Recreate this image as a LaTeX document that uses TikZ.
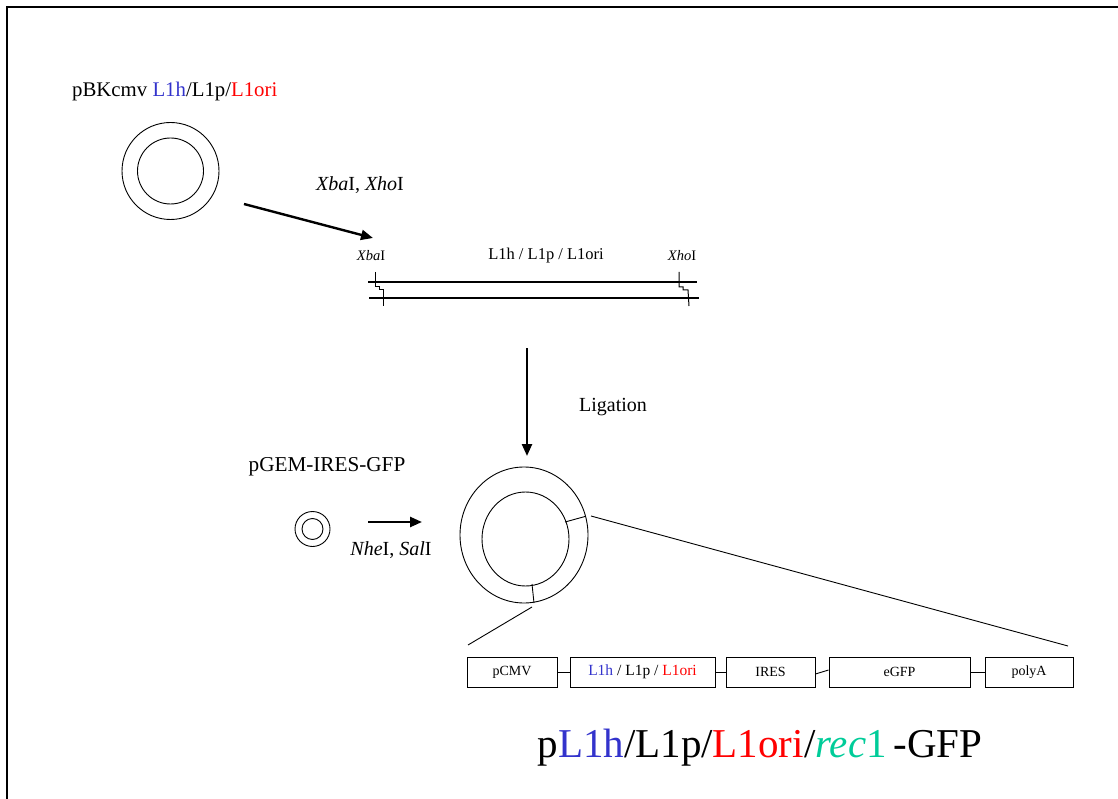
\documentclass[tikz,border=0pt]{standalone}
\usepackage{fontspec}
\setmainfont{Liberation Serif}
\usetikzlibrary{arrows.meta}
\definecolor{lblue}{RGB}{51,51,204}
\definecolor{lred}{RGB}{255,0,0}
\definecolor{lgreen}{RGB}{0,204,153}
\tikzset{
  arr/.style={line width=2.4pt,-{Triangle[length=12pt,width=10pt]}},
  lbl/.style={inner sep=0pt,font=\fontsize{20}{24}\selectfont},
  small/.style={inner sep=0pt,font=\fontsize{14}{16}\selectfont},
  frag/.style={line width=2pt},
  cut/.style={line width=1pt},
  ring/.style={circle,draw,line width=0.9pt,inner sep=0pt},
  gbox/.style={draw,line width=0.9pt,minimum height=30pt,inner sep=0pt,font=\fontsize{14}{16}\selectfont},
  thin/.style={line width=0.9pt}
}
\begin{document}
\begin{tikzpicture}[x=1pt,y=-1pt]
\useasboundingbox (0,0) rectangle (1118,799);
% frame
\draw[line width=1.5pt] (7,799) -- (7,7) -- (1118,7);

% first plasmid
\node[lbl,anchor=west,font=\fontsize{20.8}{24}\selectfont] (t1) at (72,92) {pBKcmv \textcolor{lblue}{L1h}/L1p/\textcolor{lred}{L1ori}};
\node[ring,minimum size=97pt] (p1o) at (170.5,171) {};
\node[ring,minimum size=66pt] (p1i) at (170.5,171) {};

% digestion arrow
\coordinate (a1s) at (244,204);
\coordinate (a1e) at (373,238);
\draw[arr] (a1s) -- (a1e);
\node[lbl] (enz1) at (360,185) {\textit{Xba}I, \textit{Xho}I};

% fragment
\node[small,font=\fontsize{14.5}{16}\selectfont] (xba) at (371,256) {\textit{Xba}I};
\node[small,font=\fontsize{16.5}{18}\selectfont] (frl) at (546,256) {L1h / L1p / L1ori};
\node[small,font=\fontsize{14.5}{16}\selectfont] (xho) at (682,256) {\textit{Xho}I};
\coordinate (f1a) at (368,282); \coordinate (f1b) at (697,282);
\coordinate (f2a) at (369,298); \coordinate (f2b) at (699,298);
\draw[frag] (f1a) -- (f1b);
\draw[frag] (f2a) -- (f2b);
\draw[cut] (375,272) -- (375,287) -- (379,287) -- (379,290) -- (383,290) -- (383,306);
\draw[cut] (679,272) -- (679,287) -- (683,287) -- (683,290) -- (688,290) -- (689,306);

% ligation arrow
\coordinate (a2s) at (527,348);
\coordinate (a2e) at (527,456);
\draw[arr] (a2s) -- (a2e);
\node[lbl] (lig) at (613,407) {Ligation};

% second plasmid
\node[lbl,font=\fontsize{21.2}{24}\selectfont] (pgem) at (327,467) {pGEM-IRES-GFP};
\node[ring,minimum size=35pt] (p2o) at (312.5,529) {};
\node[ring,minimum size=21pt] (p2i) at (312.5,529) {};
\coordinate (a3s) at (368,522);
\coordinate (a3e) at (422,522);
\draw[arr] (a3s) -- (a3e);
\node[lbl] (enz2) at (391,550) {\textit{Nhe}I, \textit{Sal}I};

% recombinant plasmid
\draw[thin] (524,535) ellipse [x radius=64, y radius=68];
\draw[thin] (525.5,539) ellipse [x radius=43.5, y radius=47];
\draw[thin] (565,522) -- (585,516.5);
\draw[thin] (532,584) -- (534,603);
\coordinate (z1a) at (591,516); \coordinate (z1b) at (1068,646);
\coordinate (z2a) at (532,607); \coordinate (z2b) at (468,645);
\draw[thin] (z1a) -- (z1b);
\draw[thin] (z2a) -- (z2b);

% gene map
\node[gbox,minimum width=90pt] (b1) at (512,672) {pCMV};
\node[gbox,minimum width=145pt] (b2) at (642.5,672) {\fontsize{15.5}{17}\selectfont\textcolor{lblue}{L1h} / L1p / \textcolor{lred}{L1ori}};
\node[gbox,minimum width=89pt] (b3) at (770.5,672) {IRES};
\node[gbox,minimum width=141pt] (b4) at (899.5,672) {eGFP};
\node[gbox,minimum width=88pt] (b5) at (1029,672) {polyA};
\draw[thin] (b1.east) -- (b2.west);
\draw[thin] (b2.east) -- (b3.west);
\draw[thin] ([yshift=-2pt]b3.east) -- ([yshift=2pt]b4.west);
\draw[thin] (b4.east) -- (b5.west);

% final name
\node[inner sep=0pt,font=\fontsize{41}{46}\selectfont] (final) at (760,748)
  {p\textcolor{lblue}{L1h}/L1p/\textcolor{lred}{L1ori}/\textcolor{lgreen}{\textit{rec}1}\,-GFP};
\end{tikzpicture}
\end{document}
